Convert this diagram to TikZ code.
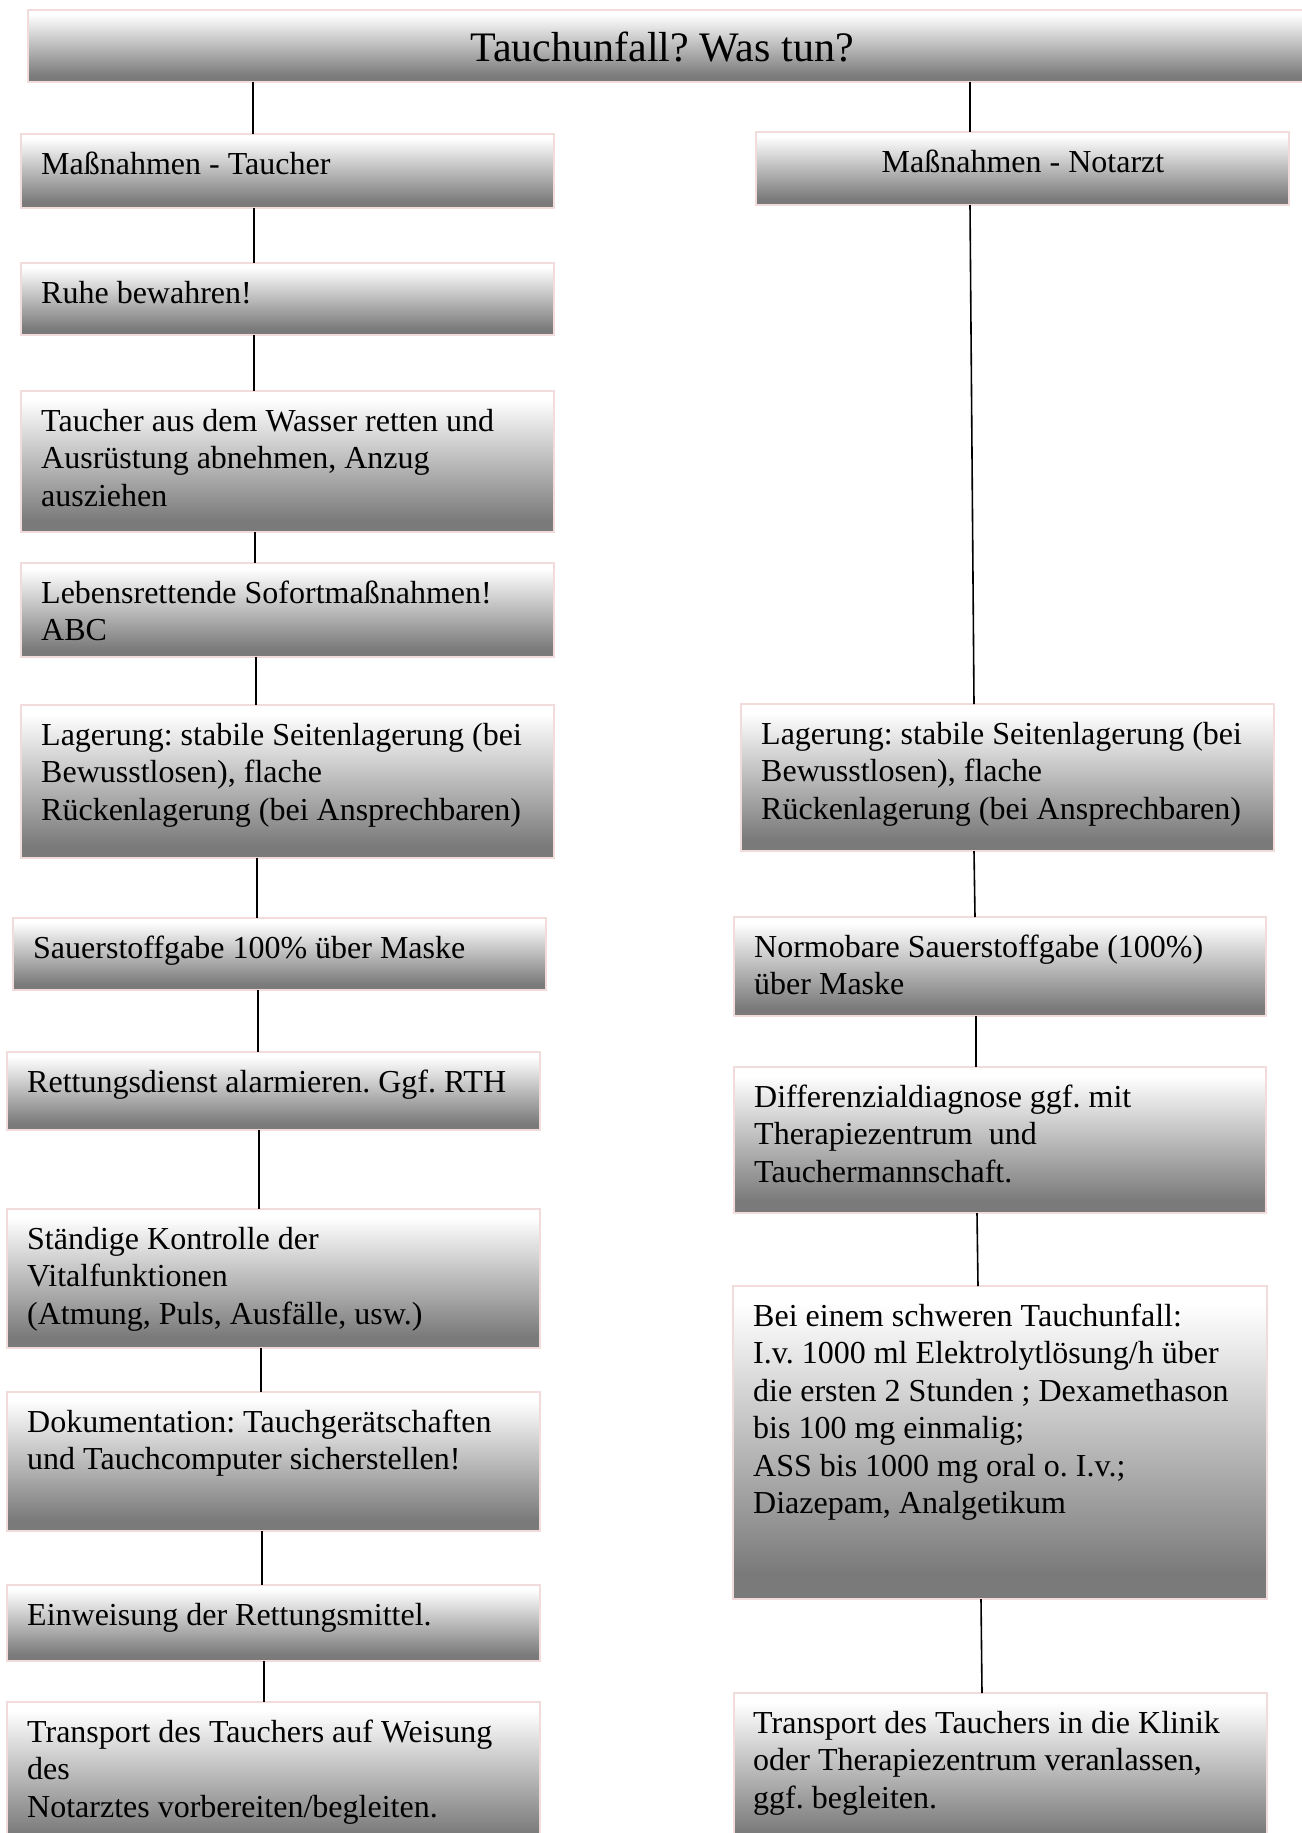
\documentclass[tikz,border=0pt]{standalone}
\usepackage{fontspec}
\setmainfont{Liberation Serif}
\frenchspacing
\definecolor{boxgray}{RGB}{122,122,122}
\definecolor{boxborder}{RGB}{242,219,219}
\pgfdeclareverticalshading{boxshade}{100bp}{color(0bp)=(boxgray); color(29bp)=(boxgray); color(72bp)=(white); color(100bp)=(white)}
\tikzset{
  flowbox/.style={rectangle, draw=boxborder, line width=1.5pt, shade, shading=boxshade, inner sep=0pt, outer sep=0pt, anchor=north west},
  boxtext/.style={inner sep=0pt, anchor=north west, align=left, font=\fontsize{32}{37.5}\selectfont},
  link/.style={draw=black, line width=1.6pt}
}
\newcommand\fbx[7]{%
  \node[flowbox, minimum width={(#4-#2)*1pt}, minimum height={(#5-#3)*1pt}] (#1) at (#2,#3) {};
  \node[boxtext] (#1t) at (#6,{#3+14}) {\strut #7};
}
\begin{document}
\begin{tikzpicture}[x=1pt,y=-1pt]
\useasboundingbox (0,0) rectangle (1301,1833);
\fill[white] (0,0) rectangle (1301,1833);
% title
\node[flowbox, minimum width=1290pt, minimum height=72pt] (title) at (28,10) {};
\node[font=\fontsize{42}{50}\selectfont, inner sep=0pt, anchor=base] (titlet) at (662,62) {Tauchunfall? Was tun?};
% left column
\fbx{L0}{21}{134}{554}{208}{41}{Maßnahmen - Taucher}
\fbx{L1}{21}{263}{554}{335}{41}{Ruhe bewahren!}
\fbx{L2}{21}{391}{554}{532}{41}{Taucher aus dem Wasser retten und\\Ausrüstung abnehmen, Anzug\\ausziehen}
\fbx{L3}{21}{563}{554}{657}{41}{Lebensrettende Sofortmaßnahmen!\\ABC}
\fbx{L4}{21}{705}{554}{858}{41}{Lagerung: stabile Seitenlagerung (bei\\Bewusstlosen), flache\\Rückenlagerung (bei Ansprechbaren)}
\fbx{L5}{13}{918}{546}{990}{33}{Sauerstoffgabe 100\% über Maske}
\fbx{L6}{7}{1052}{540}{1130}{27}{Rettungsdienst alarmieren. Ggf. RTH}
\fbx{L7}{7}{1209}{540}{1348}{27}{Ständige Kontrolle der\\Vitalfunktionen\\(Atmung, Puls, Ausfälle, usw.)}
\fbx{L8}{7}{1392}{540}{1531}{27}{Dokumentation: Tauchgerätschaften\\und Tauchcomputer sicherstellen!}
\fbx{L9}{7}{1585}{540}{1661}{27}{Einweisung der Rettungsmittel.}
\fbx{L10}{7}{1702}{540}{1845}{27}{Transport des Tauchers auf Weisung\\des\\Notarztes vorbereiten/begleiten.}
% right column
\node[flowbox, minimum width=533pt, minimum height=73pt] (R0) at (756,132) {};
\node[font=\fontsize{32}{37.5}\selectfont, inner sep=0pt, anchor=base] (R0t) at (1023,172) {Maßnahmen - Notarzt};
\fbx{R1}{741}{704}{1274}{851}{761}{Lagerung: stabile Seitenlagerung (bei\\Bewusstlosen), flache\\Rückenlagerung (bei Ansprechbaren)}
\fbx{R2}{734}{917}{1266}{1016}{754}{Normobare Sauerstoffgabe (100\%)\\über Maske}
\fbx{R3}{734}{1067}{1266}{1213}{754}{Differenzialdiagnose ggf. mit\\Therapiezentrum~ und\\Tauchermannschaft.}
\fbx{R4}{733}{1286}{1267}{1599}{753}{Bei einem schweren Tauchunfall:\\I.v. 1000 ml Elektrolytlösung/h über\\die ersten 2 Stunden ; Dexamethason\\bis 100 mg einmalig;\\ASS bis 1000 mg oral o. I.v.;\\Diazepam, Analgetikum}
\fbx{R5}{734}{1693}{1267}{1845}{753}{Transport des Tauchers in die Klinik\\oder Therapiezentrum veranlassen,\\ggf. begleiten.}
% connectors left
\draw[link] (title.south -| 253,0) -- (L0.north -| 253,0);
\draw[link] (L0.south -| 254,0) -- (L1.north -| 254,0);
\draw[link] (L1.south -| 254,0) -- (L2.north -| 254,0);
\draw[link] (L2.south -| 255,0) -- (L3.north -| 255,0);
\draw[link] (L3.south -| 256,0) -- (L4.north -| 256,0);
\draw[link] (L4.south -| 257,0) -- (L5.north -| 257,0);
\draw[link] (L5.south -| 258,0) -- (L6.north -| 258,0);
\draw[link] (L6.south -| 259,0) -- (L7.north -| 259,0);
\draw[link] (L7.south -| 261,0) -- (L8.north -| 261,0);
\draw[link] (L8.south -| 262,0) -- (L9.north -| 262,0);
\draw[link] (L9.south -| 264,0) -- (L10.north -| 264,0);
% connectors right
\draw[link] (title.south -| 970,0) -- (R0.north -| 970,0);
\draw[link] (R0.south -| 970,0) -- (R1.north -| 974,0);
\draw[link] (R1.south -| 974,0) -- (R2.north -| 975,0);
\draw[link] (R2.south -| 976,0) -- (R3.north -| 976,0);
\draw[link] (R3.south -| 977,0) -- (R4.north -| 978,0);
\draw[link] (R4.south -| 981,0) -- (R5.north -| 982,0);
\end{tikzpicture}
\end{document}
